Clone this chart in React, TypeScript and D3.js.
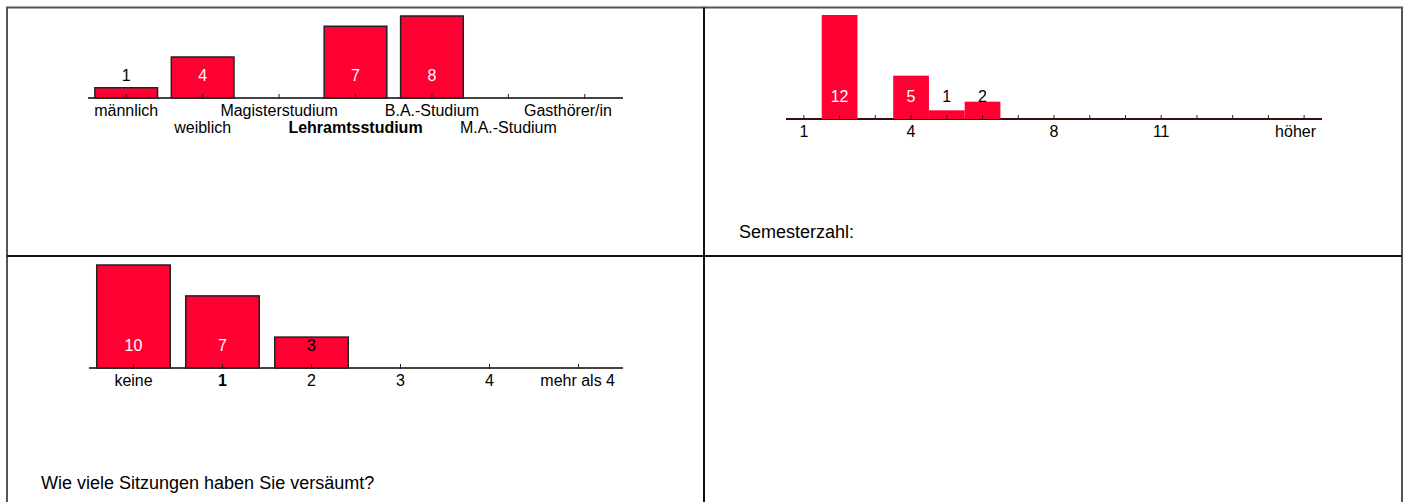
import React, { useEffect, useRef } from "react";
import * as d3 from "d3";

// ---- data ----
const TL_CATEGORIES = ["männlich", "weiblich", "Magisterstudium", "Lehramtsstudium", "B.A.-Studium", "M.A.-Studium", "Gasthörer/in"];
const TL_VALUES = [1, 4, 0, 7, 8, 0, 0];
const TL_BOLD = ["Lehramtsstudium"];

const TR_CATEGORIES = ["1", "2", "3", "4", "5", "6", "7", "8", "9", "10", "11", "12", "13", "14", "höher"];
const TR_VALUES = [0, 12, 0, 5, 1, 2, 0, 0, 0, 0, 0, 0, 0, 0, 0];
const TR_TICK_LABELS = ["1", "4", "8", "11", "höher"];
const TR_TITLE = "Semesterzahl:";

const BL_CATEGORIES = ["keine", "1", "2", "3", "4", "mehr als 4"];
const BL_VALUES = [10, 7, 3, 0, 0, 0];
const BL_BOLD = ["1"];
const BL_TITLE = "Wie viele Sitzungen haben Sie versäumt?";

const FONT = "'Liberation Sans', Arial, Helvetica, sans-serif";
const RED = "#ff0033";

type Opts = {
  categories: string[];
  values: number[];
  x0: number;
  x1: number;
  base: number;
  top: number;
  barFrac: number;
  barStroke: string | null;
  axisColor: string;
  twoRows: boolean;
  shownLabels: string[] | null;
  bold: string[];
  maxRight: number;
};

function drawChart(g: d3.Selection<SVGGElement, unknown, null, undefined>, o: Opts) {
  const x = d3.scaleBand<string>().domain(o.categories).range([o.x0, o.x1]).paddingInner(0).paddingOuter(0);
  const maxV = d3.max(o.values) || 1;
  const y = d3.scaleLinear().domain([0, maxV]).range([o.base, o.top]);
  const bw = x.bandwidth() * o.barFrac;
  const data = o.categories.map((c, i) => ({ c, v: o.values[i] }));

  g.append("line")
    .attr("x1", o.x0).attr("x2", o.x1)
    .attr("y1", o.base).attr("y2", o.base)
    .attr("stroke", o.axisColor).attr("stroke-width", 2);

  g.selectAll("rect.bar")
    .data(data.filter((d) => o.barStroke !== null || d.v > 0))
    .join("rect")
    .attr("class", "bar")
    .attr("x", (d) => (x(d.c) as number) + (x.bandwidth() - bw) / 2)
    .attr("width", bw)
    .attr("y", (d) => y(d.v))
    .attr("height", (d) => o.base - y(d.v))
    .attr("fill", RED)
    .attr("stroke", o.barStroke || "none")
    .attr("stroke-width", 1.5);

  g.selectAll("line.tick")
    .data(data)
    .join("line")
    .attr("class", "tick")
    .attr("x1", (d) => (x(d.c) as number) + x.bandwidth() / 2)
    .attr("x2", (d) => (x(d.c) as number) + x.bandwidth() / 2)
    .attr("y1", o.base - 4)
    .attr("y2", o.base + 1)
    .attr("stroke", "#222")
    .attr("stroke-width", 1);

  g.selectAll("text.val")
    .data(data.filter((d) => d.v > 0))
    .join("text")
    .attr("class", "val")
    .attr("x", (d) => (x(d.c) as number) + x.bandwidth() / 2)
    .attr("y", o.base - 17)
    .attr("text-anchor", "middle")
    .attr("font-family", FONT)
    .attr("font-size", 16)
    .attr("fill", (d) => (o.base - y(d.v) > 35 ? "#fff" : "#000"))
    .text((d) => String(d.v));

  const labels = g.selectAll("text.cat")
    .data(data.filter((d) => !o.shownLabels || o.shownLabels.includes(d.c)))
    .join("text")
    .attr("class", "cat")
    .attr("x", (d) => (x(d.c) as number) + x.bandwidth() / 2)
    .attr("y", (d) => o.base + 17.5 + (o.twoRows && o.categories.indexOf(d.c) % 2 === 1 ? 17.5 : 0))
    .attr("text-anchor", "middle")
    .attr("font-family", FONT)
    .attr("font-size", 16)
    .attr("font-weight", (d) => (o.bold.includes(d.c) ? "bold" : "normal"))
    .attr("fill", "#000")
    .text((d) => d.c);

  labels.each(function () {
    const el = this as SVGTextElement;
    const w = el.getComputedTextLength();
    const cx = +el.getAttribute("x")!;
    if (cx + w / 2 > o.maxRight) {
      el.setAttribute("x", String(o.maxRight));
      el.setAttribute("text-anchor", "end");
    }
  });
}

export default function App() {
  const ref = useRef<SVGSVGElement>(null);

  useEffect(() => {
    const svg = d3.select(ref.current!);
    svg.selectAll("*").remove();

    svg.append("rect")
      .attr("x", 7).attr("y", 7.5).attr("width", 1395).attr("height", 500)
      .attr("fill", "none").attr("stroke", "#555").attr("stroke-width", 2);
    svg.append("line")
      .attr("x1", 7).attr("x2", 1402).attr("y1", 256).attr("y2", 256)
      .attr("stroke", "#111").attr("stroke-width", 2);
    svg.append("line")
      .attr("x1", 704).attr("x2", 704).attr("y1", 7.5).attr("y2", 507)
      .attr("stroke", "#111").attr("stroke-width", 2);

    drawChart(svg.append("g"), {
      categories: TL_CATEGORIES, values: TL_VALUES,
      x0: 88, x1: 623, base: 98, top: 16, barFrac: 0.82,
      barStroke: "#222", axisColor: "#444", twoRows: true,
      shownLabels: null, bold: TL_BOLD, maxRight: 612,
    });

    drawChart(svg.append("g"), {
      categories: TR_CATEGORIES, values: TR_VALUES,
      x0: 786, x1: 1322, base: 119, top: 15, barFrac: 1.0,
      barStroke: null, axisColor: "#3a0d0d", twoRows: false,
      shownLabels: TR_TICK_LABELS, bold: [], maxRight: 1316,
    });

    drawChart(svg.append("g"), {
      categories: BL_CATEGORIES, values: BL_VALUES,
      x0: 89, x1: 623, base: 368, top: 265, barFrac: 0.826,
      barStroke: "#222", axisColor: "#444", twoRows: false,
      shownLabels: null, bold: BL_BOLD, maxRight: 615,
    });

    svg.append("text")
      .attr("x", 739).attr("y", 238)
      .attr("font-family", FONT).attr("font-size", 18).attr("fill", "#000")
      .text(TR_TITLE);

    svg.append("text")
      .attr("x", 41).attr("y", 489)
      .attr("font-family", FONT).attr("font-size", 18).attr("fill", "#000")
      .text(BL_TITLE);
  }, []);

  return (
    <svg
      ref={ref}
      width={1406}
      height={502}
      style={{ position: "absolute", left: 0, top: 0, display: "block", background: "#fff" }}
    />
  );
}
